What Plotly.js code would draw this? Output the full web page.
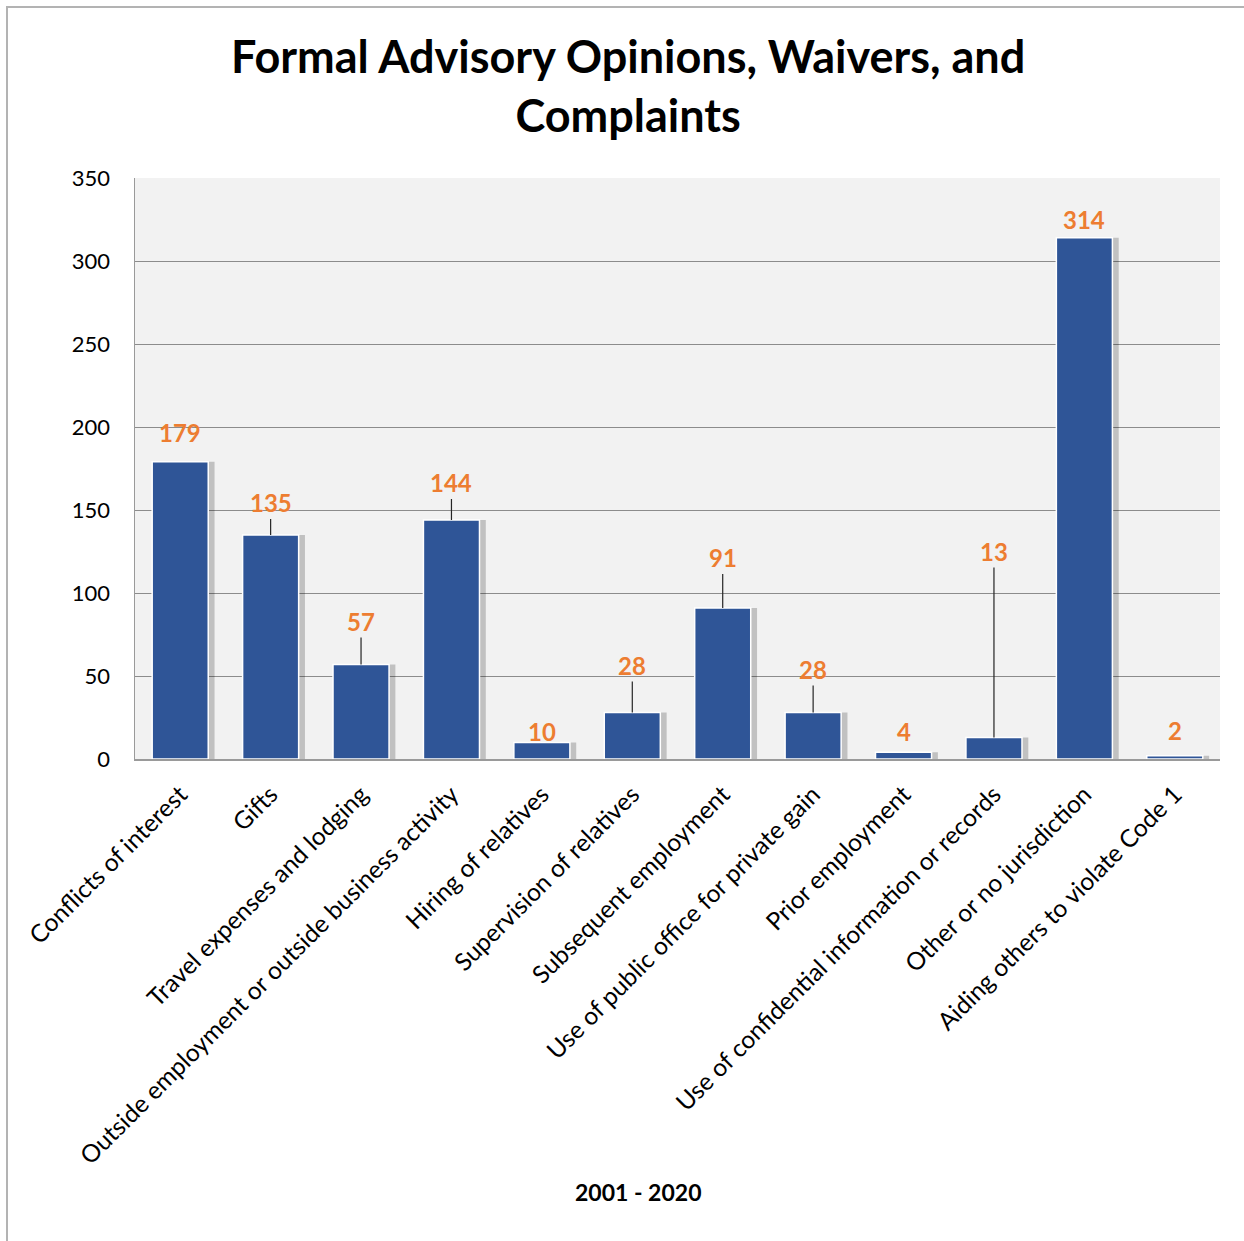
<!DOCTYPE html>
<html>
<head>
<meta charset="utf-8">
<script src="https://cdn.plot.ly/plotly-3.0.1.min.js"></script>
<style>
html,body{margin:0;padding:0;background:#fff;overflow:hidden;}
#chart{width:1244px;height:1241px;position:absolute;left:0;top:0;}
#frame{position:absolute;left:6px;top:6px;width:2000px;height:2000px;border:2px solid #b3b3b3;pointer-events:none;}
</style>
</head>
<body>
<div id="chart"></div>
<div id="frame"></div>
<script>
const categories = [
  "Conflicts of interest",
  "Gifts",
  "Travel expenses and lodging",
  "Outside employment or outside business activity",
  "Hiring of relatives",
  "Supervision of relatives",
  "Subsequent employment",
  "Use of public office for private gain",
  "Prior employment",
  "Use of confidential information or records",
  "Other or no jurisdiction",
  "Aiding others to violate Code 1"
];
const counts = [179, 135, 57, 144, 10, 28, 91, 28, 4, 13, 314, 2];
const yTicks = [0, 50, 100, 150, 200, 250, 300, 350];

// label placement (pixels above the bar top) and whether a leader line is drawn
const labelLift = [29, 32, 43, 37, 11, 47, 50, 43, 21, 186, 18, 25];
const labelLeader = [false, true, true, true, false, true, true, true, false, true, false, false];

const FONT = "Lato, 'Open Sans', sans-serif";
const barW = 0.62;

const shadow = {
  type: "bar", x: categories, y: counts,
  width: barW, offset: -barW/2 + 0.07,
  marker: {color: "rgba(0,0,0,0.2)", line: {width: 0}},
  hoverinfo: "skip", showlegend: false
};
const bars = {
  type: "bar", x: categories, y: counts,
  width: barW, offset: -barW/2,
  marker: {color: "#2F5597", line: {color: "#ffffff", width: 1.5}},
  showlegend: false
};

const annotations = counts.map((v, i) => {
  const base = {
    x: categories[i], y: v, xref: "x", yref: "y",
    text: String(v),
    font: {family: FONT, size: 24, color: "#ED7D31", weight: "bold"}
  };
  if (labelLeader[i]) {
    return Object.assign(base, {
      showarrow: true, arrowhead: 0, arrowwidth: 1.2, arrowcolor: "#262626",
      ax: 0, ay: -labelLift[i], axref: "pixel", ayref: "pixel", standoff: 0
    });
  }
  return Object.assign(base, {showarrow: false, yshift: labelLift[i]});
});

// chart title
annotations.push({
  text: "<b>Formal Advisory Opinions, Waivers, and<br>Complaints</b>",
  xref: "paper", yref: "paper", x: 0.4544, y: (759 - 86) / 581,
  xanchor: "center", yanchor: "middle", showarrow: false,
  font: {family: FONT, size: 45, color: "#000"}
});
// x axis title
annotations.push({
  text: "<b>2001 - 2020</b>", xref: "paper", yref: "paper",
  x: 0.4636, y: (759 - 1192) / 581, xanchor: "center", yanchor: "middle",
  showarrow: false,
  font: {family: FONT, size: 23, color: "#000"}
});

const layout = {
  width: 1244, height: 1241,
  margin: {l: 135, r: 24, t: 178, b: 482},
  paper_bgcolor: "#ffffff",
  plot_bgcolor: "#f2f2f2",
  barmode: "overlay",
  xaxis: {
    type: "category", tickangle: -45,
    tickfont: {family: FONT, size: 24.5, color: "#000"},
    showline: true, linecolor: "#9a9a9a", linewidth: 1.5,
    showgrid: false, ticks: "", ticklabelstandoff: 10, automargin: false
  },
  yaxis: {
    range: [0, 350], tickvals: yTicks, ticktext: yTicks.map(String),
    tickfont: {family: FONT, size: 22, color: "#000"},
    showgrid: true, gridcolor: "#8c8c8c", gridwidth: 1,
    zeroline: false,
    showline: true, linecolor: "#9a9a9a", linewidth: 1.5,
    ticks: "", ticklabelstandoff: 19, automargin: false
  },
  annotations: annotations
};

Plotly.newPlot("chart", [shadow, bars], layout, {displayModeBar: false, staticPlot: true});
</script>
</body>
</html>
